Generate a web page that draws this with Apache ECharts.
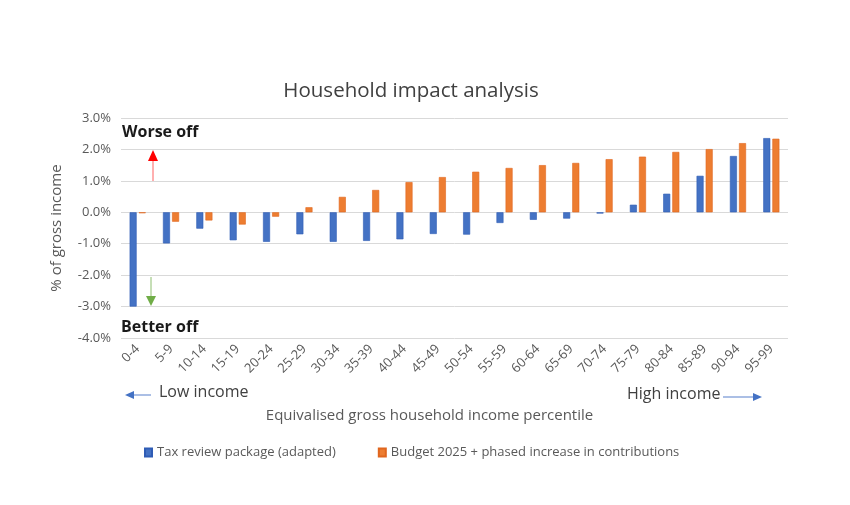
<!DOCTYPE html>
<html><head><meta charset="utf-8">
<script src="https://cdn.jsdelivr.net/npm/echarts@6/dist/echarts.min.js"></script>
<style>html,body{margin:0;padding:0;background:#fff}#c{width:850px;height:505px}</style>
</head><body><div id="c"></div>
<script>
var categories = ['0-4','5-9','10-14','15-19','20-24','25-29','30-34','35-39','40-44','45-49','50-54','55-59','60-64','65-69','70-74','75-79','80-84','85-89','90-94','95-99'];
var taxReview = [-3.0,-0.99,-0.52,-0.89,-0.94,-0.70,-0.94,-0.91,-0.86,-0.69,-0.71,-0.34,-0.24,-0.20,-0.04,0.24,0.59,1.16,1.79,2.36];
var budget2025 = [-0.03,-0.30,-0.26,-0.39,-0.14,0.16,0.49,0.71,0.96,1.12,1.29,1.41,1.50,1.57,1.69,1.77,1.92,2.01,2.20,2.34];
var seriesNames = ['Tax review package (adapted)','Budget 2025 + phased increase in contributions'];
var yTicks = {min:-4, max:3, interval:1};

var F = '"Open Sans", "Noto Sans", sans-serif';
var chart = echarts.init(document.getElementById('c'), null, {renderer:'canvas'});
chart.setOption({
  animation:false,
  backgroundColor:'#fff',
  title:{text:'Household impact analysis', left:406, textAlign:'center', top:76,
    textStyle:{fontFamily:F, fontSize:20.5, fontWeight:'normal', color:'#404040'}},
  legend:{data:seriesNames, top:441, left:139, itemWidth:7, itemHeight:8, itemGap:42,
    textStyle:{fontFamily:F, fontSize:13, color:'#595959'}, icon:'rect'},
  grid:{left:121, right:62, top:118, bottom:167},
  xAxis:{type:'category', data:categories, name:'Equivalised gross household income percentile',
    nameLocation:'middle', nameGap:70,
    nameTextStyle:{fontFamily:F, fontSize:15, color:'#595959', padding:[0,50,0,0]},
    axisLine:{show:false, onZero:false}, axisTick:{show:false},
    axisLabel:{rotate:45, margin:9, fontFamily:F, fontSize:13, color:'#595959', interval:0}},
  yAxis:{type:'value', min:yTicks.min, max:yTicks.max, interval:yTicks.interval,
    name:'% of gross income', nameLocation:'middle', nameGap:57, nameRotate:90,
    nameTextStyle:{fontFamily:F, fontSize:15, color:'#595959'},
    axisLine:{show:false}, axisTick:{show:false},
    axisLabel:{formatter:function(v){return v.toFixed(1)+'%';}, fontFamily:F, fontSize:13, color:'#595959', margin:10},
    splitLine:{lineStyle:{color:'#d9d9d9', width:1}}},
  series:[
    {name:seriesNames[0], type:'bar', data:taxReview, barWidth:7, barGap:'30%',
     itemStyle:{color:'#4472C4', borderColor:'#2F5CB5', borderWidth:0.6}},
    {name:seriesNames[1], type:'bar', data:budget2025, barWidth:7,
     itemStyle:{color:'#ED7D31', borderColor:'#E0661E', borderWidth:0.6}}
  ],
  graphic:[
    {type:'text', left:122, top:124, style:{text:'Worse off', font:'bold 16px '+F, fill:'#1a1a1a'}},
    {type:'text', left:121, top:319, style:{text:'Better off', font:'bold 16px '+F, fill:'#1a1a1a'}},
    {type:'line', shape:{x1:153,y1:181,x2:153,y2:160}, style:{stroke:'#FF6060', lineWidth:1}},
    {type:'polygon', shape:{points:[[148,161],[158,161],[153,150]]}, style:{fill:'#FF0000'}},
    {type:'line', shape:{x1:151,y1:277,x2:151,y2:296}, style:{stroke:'#8DBE6E', lineWidth:1}},
    {type:'polygon', shape:{points:[[146,296],[156,296],[151,306]]}, style:{fill:'#70AD47'}},
    {type:'line', shape:{x1:133,y1:395,x2:151,y2:395}, style:{stroke:'#8FAADC', lineWidth:1.5}},
    {type:'polygon', shape:{points:[[125,395],[134,391],[134,399]]}, style:{fill:'#4472C4'}},
    {type:'text', left:159, top:384, style:{text:'Low income', font:'16px '+F, fill:'#404040'}},
    {type:'text', left:627, top:386, style:{text:'High income', font:'16px '+F, fill:'#404040'}},
    {type:'line', shape:{x1:723,y1:397,x2:754,y2:397}, style:{stroke:'#8FAADC', lineWidth:1.5}},
    {type:'polygon', shape:{points:[[762,397],[753,393],[753,401]]}, style:{fill:'#4472C4'}}
  ]
});
</script></body></html>
